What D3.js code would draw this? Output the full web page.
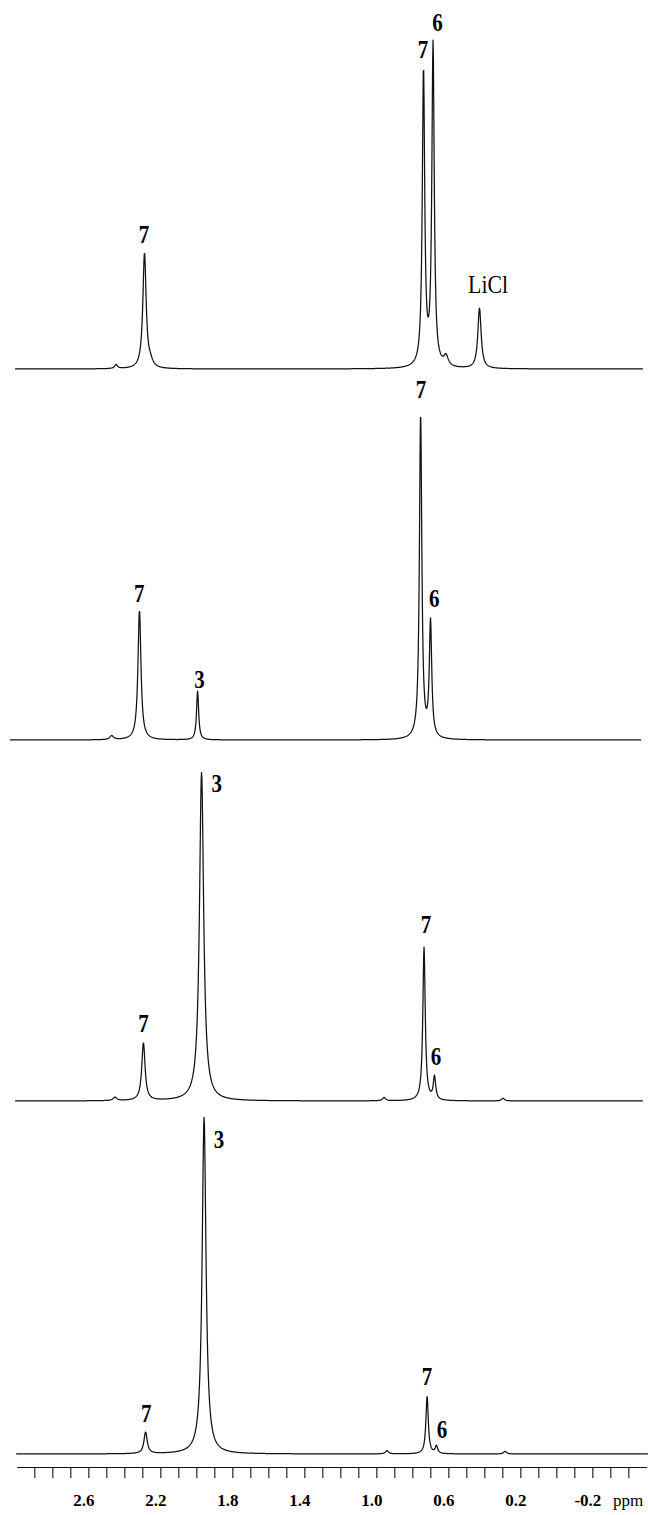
<!DOCTYPE html>
<html>
<head>
<meta charset="utf-8">
<script src="https://cdn.jsdelivr.net/npm/d3@7"></script>
<style>
  body { margin: 0; background: #fff; }
  svg { display: block; }
  .trace { fill: none; stroke: #111; stroke-width: 1.25; stroke-linejoin: round; }
  .peak-label { font-family: 'Liberation Serif', 'Times New Roman', serif; font-weight: bold; font-size: 25px; fill: #000; }
  .peak-label.plain { font-weight: normal; font-size: 26px; }
  .axis path, .axis line { stroke: #111; stroke-width: 1.1; }
  .axis text { font-family: 'Liberation Serif', 'Times New Roman', serif; font-weight: bold; font-size: 17px; fill: #000; }
  .unit { font-family: 'Liberation Serif', 'Times New Roman', serif; font-size: 17px; fill: #000; }
</style>
</head>
<body>
<svg id="chart"></svg>
<script>
// ---- data ----
// each peak: [shift (ppm), height (% of tallest), width at half height (ppm)]
const peaksA = [
  [2.446, 1.2, 0.020],
  [2.288, 35.0, 0.022],
  [2.255, 1.5, 0.030],
  [0.738, 89.5, 0.016],
  [0.685, 97.5, 0.016],
  [0.613, 3.0, 0.030],
  [0.427, 18.3, 0.022]
];
const peaksB = [
  [2.470, 1.2, 0.025],
  [2.316, 39.3, 0.020],
  [1.993, 14.8, 0.014],
  [0.754, 98.5, 0.016],
  [0.699, 35.0, 0.016]
];
const peaksC = [
  [2.452, 1.0, 0.025],
  [2.294, 17.5, 0.022],
  [1.971, 99.5, 0.028],
  [0.957, 1.0, 0.020],
  [0.735, 46.5, 0.016],
  [0.677, 7.0, 0.016],
  [0.296, 0.8, 0.020]
];
const peaksD = [
  [2.282, 6.5, 0.022],
  [1.957, 102.0, 0.026],
  [0.941, 1.0, 0.020],
  [0.718, 17.5, 0.016],
  [0.666, 2.3, 0.016],
  [0.285, 0.8, 0.020]
];

// spectral window of each trace (ppm)
const windowStart = [3.007, 3.035, 3.007, 3.001];
const windowEnd = [-0.482, -0.471, -0.482, -0.510];

// peak annotations: [text, shift (ppm), level (% of tallest)]
const labelsA = [['7', 2.291, 38.2], ['7', 0.741, 94.2], ['6', 0.660, 102.4], ['LiCl', 0.379, 23.0]];
const labelsB = [['7', 2.317, 41.8], ['3', 1.982, 15.8], ['7', 0.752, 103.6], ['6', 0.679, 40.3]];
const labelsC = [['7', 2.294, 20.9], ['3', 1.887, 93.6], ['7', 0.724, 50.9], ['6', 0.668, 10.9]];
const labelsD = [['7', 2.279, 9.7], ['3', 1.874, 92.7], ['7', 0.718, 20.9], ['6', 0.635, 4.8]];

// x axis
const axisTicks = d3.range(29, -5, -1).map(d => d / 10);   // 2.9 ... -0.4
const axisLabels = ['2.6', '2.2', '1.8', '1.4', '1.0', '0.6', '0.2', '-0.2'];

const spectra = [
  { peaks: peaksA, labels: labelsA },
  { peaks: peaksB, labels: labelsB },
  { peaks: peaksC, labels: labelsC },
  { peaks: peaksD, labels: labelsD }
];

// ---- layout ----
const width = 648, height = 1515;
const baselines = [369, 740, 1101, 1454];   // y of each trace's baseline
const fullScale = 330;                     // px for 100 %
const axisY = 1467;

const svg = d3.select('#chart')
  .attr('width', width)
  .attr('height', height);

// chemical shift runs right to left
const x = d3.scaleLinear()
  .domain([2.998, -0.502])
  .range([16.7, 646.7]);

// Lorentzian sum for a list of peaks
function intensity(ppm, peaks) {
  let s = 0;
  for (const [c, h, w] of peaks) {
    const t = (ppm - c) / (w / 2);
    s += h / (1 + t * t);
  }
  return s;
}

spectra.forEach((spec, i) => {
  const y = d3.scaleLinear()
    .domain([0, 100])
    .range([baselines[i], baselines[i] - fullScale]);

  // sample every ~0.35 px along the window
  const step = 0.002;
  const pts = d3.range(windowStart[i], windowEnd[i] - step / 2, -step)
    .map(p => [p, intensity(p, spec.peaks)]);

  const line = d3.line()
    .x(d => x(d[0]))
    .y(d => y(d[1]));

  svg.append('path')
    .attr('class', 'trace')
    .attr('d', line(pts));

  // annotations, slightly condensed like the original lettering
  svg.selectAll(null)
    .data(spec.labels)
    .join('text')
    .attr('class', d => d[0] === 'LiCl' ? 'peak-label plain' : 'peak-label')
    .attr('text-anchor', 'middle')
    .attr('transform', d => `translate(${x(d[1])},${y(d[2])}) scale(0.84,1)`)
    .text(d => d[0]);
});

// ppm axis
const xAxis = d3.axisBottom(x)
  .tickValues(axisTicks)
  .tickSize(11)
  .tickSizeOuter(0)
  .tickFormat(d => {
    const s = d.toFixed(1);
    return axisLabels.includes(s) ? s : '';
  });

const xAxisG = svg.append('g')
  .attr('class', 'axis')
  .attr('transform', `translate(0,${axisY})`)
  .call(xAxis);

xAxisG.selectAll('.tick text')
  .attr('y', 39)
  .attr('dy', 0)
  .attr('dx', -5);

svg.append('text')
  .attr('class', 'unit')
  .attr('x', 613)
  .attr('y', axisY + 39)
  .text('ppm');
</script>
</body>
</html>
